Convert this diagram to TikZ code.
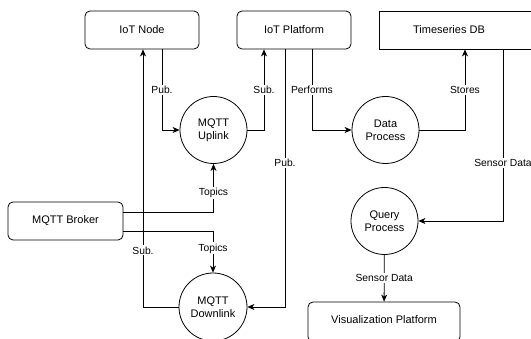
\documentclass[tikz,border=0pt]{standalone}
\usepackage{fontspec}
\setmainfont{Liberation Sans}
\usetikzlibrary{arrows.meta}
\begin{document}
\begin{tikzpicture}[x=1pt,y=-1pt,
  box/.style={draw, rounded corners=5pt, line width=0.8pt, minimum width=114pt, minimum height=38pt, font=\fontsize{11}{13}\selectfont, inner sep=0pt},
  proc/.style={draw, circle, line width=0.8pt, minimum size=67pt, inner sep=0pt, align=center, font=\fontsize{11}{13}\selectfont},
  arr/.style={draw, line width=0.8pt, -{Stealth[length=7pt,width=6pt,inset=2pt]}},
  lbl/.style={fill=white, inner sep=1.2pt, font=\fontsize{10.3}{12}\selectfont}]
\useasboundingbox (0,0) rectangle (531,339);
\clip (0,0) rectangle (531,339);
\node[box] (iotnode) at (142,30) {IoT Node};
\node[box] (platform) at (294,30) {IoT Platform};
\node[draw, line width=0.8pt, minimum width=154pt, minimum height=38pt, inner sep=0pt,
  label={[xshift=-7pt, font=\fontsize{11}{13}\selectfont]center:Timeseries DB}] (tsdb) at (456,30) {};
\node[box, minimum width=115pt] (broker) at (65.5,221) {MQTT Broker};
\node[box, minimum width=152pt, minimum height=40pt] (viz) at (384,322) {};
\node[font=\fontsize{11}{13}\selectfont] (viztext) at (384,320) {Visualization Platform};
\node[proc] (uplink) at (213.5,130) {MQTT\\Uplink};
\node[proc] (dataproc) at (385.5,130) {Data\\Process};
\node[proc] (query) at (384.5,221) {Query\\Process};
\node[proc, minimum size=68pt] (downlink) at (213,307) {MQTT\\Downlink};

\draw[arr] ([xshift=20pt]iotnode.south) |- node[lbl, pos=0.25] {Pub.} (uplink);
\draw[arr] (uplink) -| node[lbl, pos=0.75] {Sub.} ([xshift=-30pt]platform.south);
\draw[arr] ([xshift=-9pt]platform.south) |- node[lbl, pos=0.22] {Pub.} (downlink);
\draw[arr] ([xshift=18pt]platform.south) |- node[lbl, pos=0.25] {Performs} (dataproc);
\draw[arr] (dataproc) -| node[lbl, pos=0.75] {Stores} ([xshift=9pt]tsdb.south);
\draw[arr] ([xshift=47pt]tsdb.south) |- node[lbl, pos=0.33] {Sensor Data} (query);
\draw[arr] (query) -- node[lbl] {Sensor Data} (viz);
\draw[arr] (downlink) -| node[lbl, pos=0.61] {Sub.} ([xshift=1pt]iotnode.south);
\draw[arr] ([yshift=9pt]broker.east) -| node[lbl, pos=0.7] {Topics} (uplink);
\draw[arr] ([yshift=-10pt]broker.east) -| node[lbl, pos=0.71] {Topics} (downlink);
\end{tikzpicture}
\end{document}
